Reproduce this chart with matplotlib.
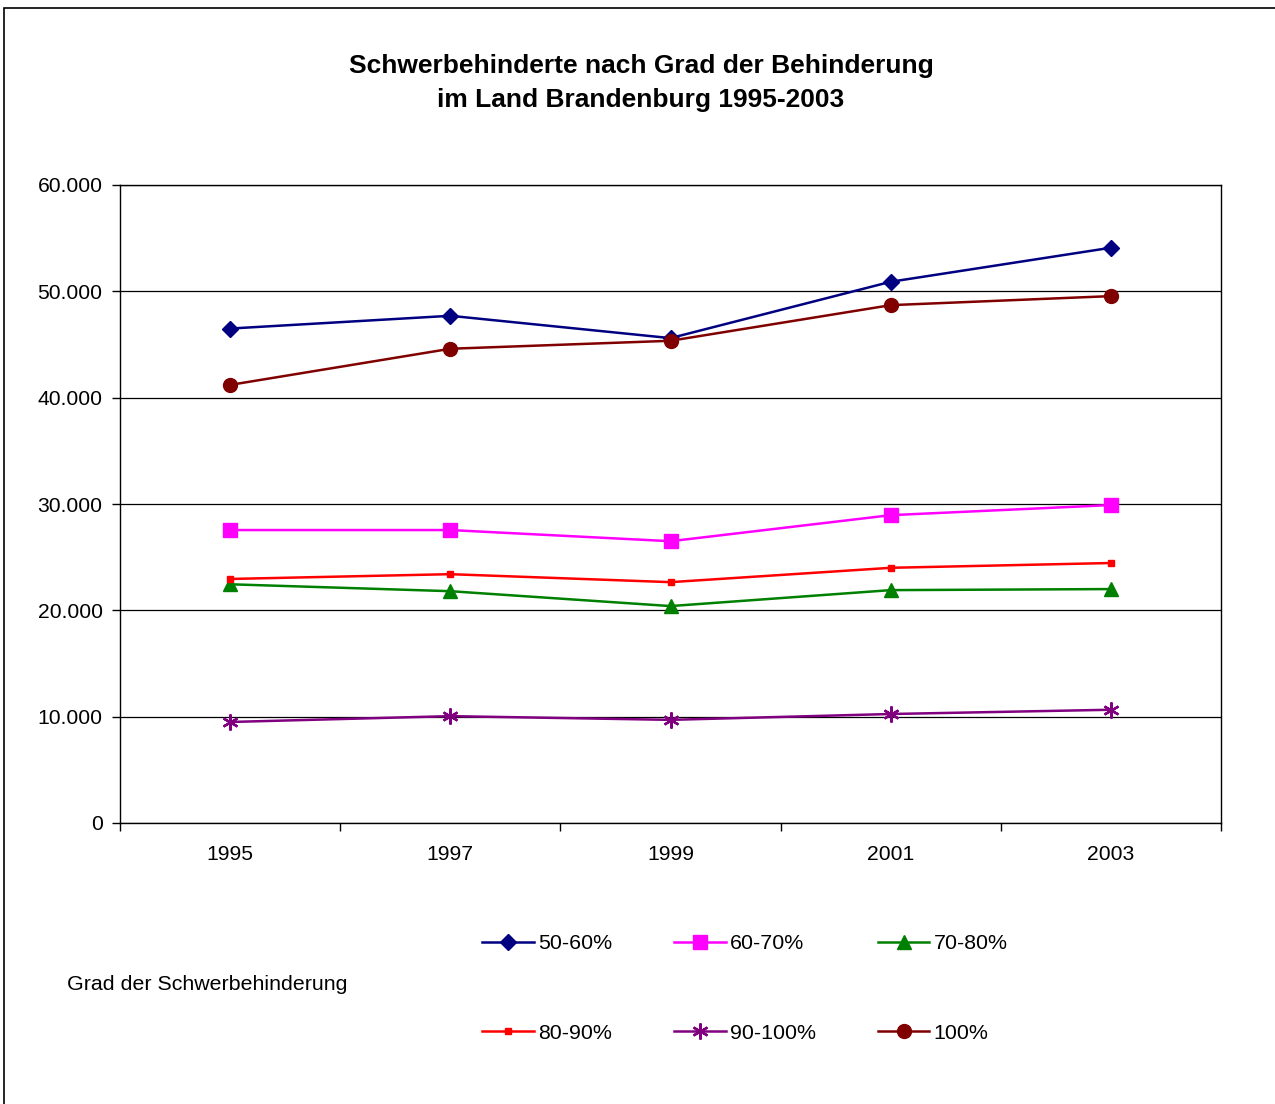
import matplotlib.pyplot as plt
from matplotlib.patches import Rectangle
from matplotlib.ticker import FuncFormatter

plt.rcParams['font.family'] = ['Liberation Sans', 'DejaVu Sans']

jahre = ['1995', '1997', '1999', '2001', '2003']

g50_60 = [46500, 47700, 45600, 50900, 54100]
g60_70 = [27550, 27550, 26500, 28950, 29900]
g70_80 = [22450, 21800, 20400, 21900, 22000]
g80_90 = [22950, 23400, 22650, 24000, 24450]
g90_100 = [9500, 10050, 9700, 10250, 10650]
g100 = [41200, 44600, 45350, 48700, 49550]

fig = plt.figure(figsize=(12.75, 11.04), dpi=100)
fig.patches.append(Rectangle((4/1275, -0.05), 1.1, 1 - 8/1104 + 0.05,
                             transform=fig.transFigure, fill=False,
                             edgecolor='black', linewidth=1.2))

ax = fig.add_axes([120/1275, 1 - 823/1104, 1101/1275, 638/1104])
x = list(range(len(jahre)))

lw = 1.8
l1, = ax.plot(x, g50_60, color='#000080', lw=lw, marker='D', ms=8, label='50-60%')
l2, = ax.plot(x, g60_70, color='#FF00FF', lw=lw, marker='s', ms=10, label='60-70%')
l3, = ax.plot(x, g70_80, color='#008000', lw=lw, marker='^', ms=10, label='70-80%')
l4, = ax.plot(x, g80_90, color='#FF0000', lw=lw, marker='s', ms=4.5, label='80-90%')
l5, = ax.plot(x, g90_100, color='#800080', lw=lw, marker=(6, 2, 0), ms=11.5,
              markeredgewidth=1.7, label='90-100%')
l6, = ax.plot(x, g100, color='#800000', lw=lw, marker='o', ms=10, label='100%')

ax.set_xlim(-0.5, len(jahre) - 0.5)
ax.set_ylim(0, 60000)
ax.set_yticks(range(0, 60001, 10000))
ax.yaxis.set_major_formatter(FuncFormatter(lambda v, p: f'{int(v):,}'.replace(',', '.')))
ax.grid(axis='y', color='black', linewidth=0.9)
ax.set_axisbelow(True)

ax.set_xticks(x)
ax.set_xticklabels(jahre)
ax.set_xticks([i - 0.5 for i in range(len(jahre) + 1)], minor=True)
ax.tick_params(axis='x', which='major', length=0, pad=16, labelsize=15.2)
ax.tick_params(axis='x', which='minor', length=6, width=1)
ax.tick_params(axis='y', length=6, width=1, labelsize=15.2, pad=6.5)
for s in ax.spines.values():
    s.set_linewidth(1)

fig.text(641/1275, 1 - 83/1104,
         'Schwerbehinderte nach Grad der Behinderung\nim Land Brandenburg 1995-2003',
         ha='center', va='center', fontsize=19, fontweight='bold', linespacing=1.5)

fig.text(67/1275, 1 - 984/1104, 'Grad der Schwerbehinderung',
         ha='left', va='center', fontsize=15.4)

fig.legend([l1, l4, l2, l5, l3, l6],
           ['50-60%', '80-90%', '60-70%', '90-100%', '70-80%', '100%'],
           ncol=3, loc='center', bbox_to_anchor=(745/1275, 1 - 988.5/1104),
           frameon=False, fontsize=15.4, handlelength=2.4, handletextpad=0.2,
           columnspacing=2.9, labelspacing=3.3)

fig.savefig('out.png', dpi=100)
